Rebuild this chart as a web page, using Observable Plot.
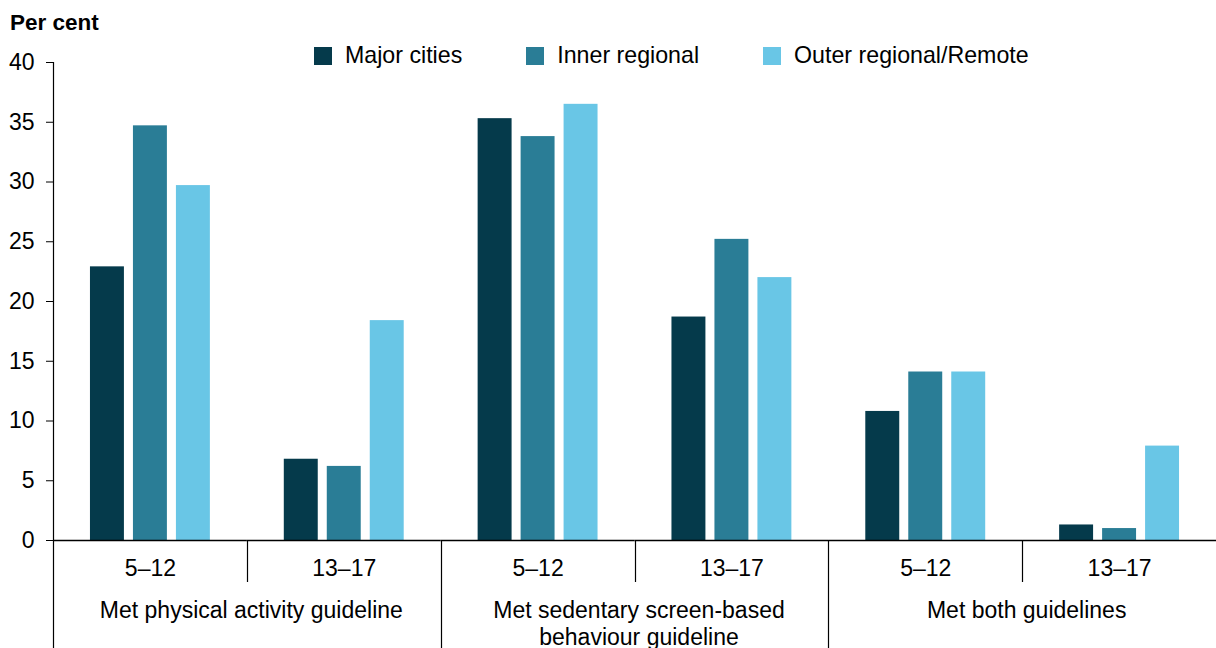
<!DOCTYPE html>
<html>
<head>
<meta charset="utf-8">
<script src="https://cdn.jsdelivr.net/npm/d3@7"></script>
<script src="https://cdn.jsdelivr.net/npm/@observablehq/plot@0.6"></script>
<style>
  html, body { margin: 0; padding: 0; background: #fff; }
  #wrap { position: relative; width: 1216px; height: 648px; font-family: "Liberation Sans", Arial, sans-serif; color: #000; overflow: hidden; }
  #title { position: absolute; left: 10px; top: 12px; font-size: 22.5px; font-weight: bold; line-height: 1; }
  #legend { position: absolute; left: 314px; top: 46px; height: 20px; display: flex; align-items: center; gap: 64px; font-size: 23.2px; line-height: 1; }
  .item { display: flex; align-items: center; }
  .sw { width: 18px; height: 18px; margin-right: 13px; }
  #chart { position: absolute; left: 0; top: 0; }
</style>
</head>
<body>
<div id="wrap">
  <div id="chart"></div>
  <div id="title">Per cent</div>
  <div id="legend"></div>
</div>
<script>
// ---- data ----
const guidelines = ["Met physical activity guideline", "Met sedentary screen-based\nbehaviour guideline", "Met both guidelines"];
const ageGroups = ["5–12", "13–17"];
const regions = ["Major cities", "Inner regional", "Outer regional/Remote"];
// values in order: PA 5–12, PA 13–17, SB 5–12, SB 13–17, Both 5–12, Both 13–17
const majorCities = [22.9, 6.8, 35.3, 18.7, 10.8, 1.3];
const innerRegional = [34.7, 6.2, 33.8, 25.2, 14.1, 1.0];
const outerRegionalRemote = [29.7, 18.4, 36.5, 22.0, 14.1, 7.9];
const yTicks = [0, 5, 10, 15, 20, 25, 30, 35, 40];
const colours = ["#053a4b", "#2a7d96", "#69c6e6"];

// ---- build tables ----
const seriesValues = [majorCities, innerRegional, outerRegionalRemote];
const panels = guidelines.flatMap((g, gi) => ageGroups.map((a, ai) => ({key: gi * 2 + ai, guideline: g, age: a, first: ai === 0})));
const data = panels.flatMap((p, i) => regions.map((r, ri) => ({panel: p.key, region: r, value: seriesValues[ri][i]})));
const groupStarts = panels.filter(p => p.first);

const chart = Plot.plot({
  width: 1216,
  height: 648,
  marginTop: 62,
  marginBottom: 108,
  marginLeft: 53,
  marginRight: 0,
  style: {fontFamily: "'Liberation Sans', Arial, sans-serif", fontSize: "23px", color: "#000", background: "#fff", overflow: "visible"},
  fx: {domain: panels.map(p => p.key), paddingInner: 0, paddingOuter: 0, round: false, axis: null},
  x: {domain: regions, paddingInner: 0.21, paddingOuter: 0.86, round: false, axis: null},
  y: {domain: [0, 40], axis: null},
  color: {domain: regions, range: colours},
  marks: [
    Plot.barY(data, {fx: "panel", x: "region", y: "value", fill: "region"}),
    Plot.ruleY([0], {stroke: "#000", strokeWidth: 1.3}),
    Plot.axisY({ticks: yTicks, tickSize: 7, tickPadding: 12, fontSize: 23, label: null, tickFormat: d => String(d)}),
    Plot.text(panels, {fx: "key", text: "age", frameAnchor: "bottom", lineAnchor: "top", dy: 19, fontSize: 23}),
    Plot.text(groupStarts, {fx: "key", text: "guideline", frameAnchor: "bottom-right", textAnchor: "middle", lineAnchor: "top", dy: 58, dx: 4, fontSize: 23, lineHeight: 1.17})
  ]
});
document.getElementById("chart").appendChild(chart);

// separator lines in the category axis, positioned from Plot's own scales
const fx = chart.scale("fx");
const y = chart.scale("y");
const svg = d3.select(chart.tagName.toLowerCase() === "svg" ? chart : chart.querySelector("svg"));
const y0 = y.apply(0);
const yTop = y.apply(40);
panels.forEach(p => {
  const x = Math.round(fx.apply(p.key)) + 0.5;
  const top = p.key === 0 ? yTop : y0;
  const bottom = p.first ? 648 : y0 + 42;
  svg.append("line").attr("x1", x).attr("x2", x).attr("y1", top).attr("y2", bottom)
    .attr("stroke", "#000").attr("stroke-width", 1.2);
});

// legend
const legend = d3.select("#legend");
regions.forEach((r, i) => {
  const it = legend.append("div").attr("class", "item");
  it.append("div").attr("class", "sw").style("background", colours[i]);
  it.append("span").text(r);
});
</script>
</body>
</html>
